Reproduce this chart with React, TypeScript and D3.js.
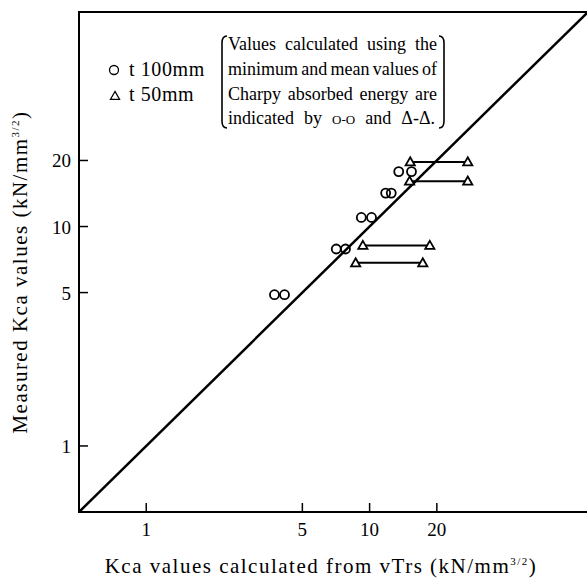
import * as d3 from "d3";
import { useEffect, useRef } from "react";

// Kca values (kN/mm^3/2)
// circles: t100mm, pairs of (min, mean) Charpy based estimate vs measured
const circleMin = [3.75, 7.09, 9.18, 11.8, 13.5];
const circleMean = [4.16, 7.8, 10.2, 12.5, 15.4];
const circleMeasured = [4.89, 7.9, 11.0, 14.2, 17.8];

// triangles: t50mm
const triMin = [15.2, 15.1, 9.33, 8.66];
const triMean = [27.5, 27.5, 18.6, 17.3];
const triMeasured = [19.7, 16.1, 8.2, 6.83];

const xTicks = [1, 5, 10, 20];
const yTicks = [1, 5, 10, 20];
const domain: [number, number] = [0.5, 95];

const noteLines = [
  "Values calculated using the",
  "minimum and mean values of",
  "Charpy absorbed energy are",
];

const W = 587;
const H = 579;
const font = "'Liberation Serif', 'Times New Roman', serif";

const App = () => {
  const noteRef = useRef<SVGGElement | null>(null);

  const x = d3.scaleLog().domain(domain).range([79, 588]);
  const y = d3.scaleLog().domain(domain).range([512, 12]);

  // justify note lines by stretching the spaces between words
  useEffect(() => {
    const g = d3.select(noteRef.current);
    g.selectAll<SVGTextElement, unknown>("text.just").each(function () {
      const target = +(this.getAttribute("data-w") || 0);
      this.setAttribute("word-spacing", "0");
      const len = this.getComputedTextLength();
      const spaces = (this.textContent || "").split(" ").length - 1;
      if (spaces > 0) this.setAttribute("word-spacing", String((target - len) / spaces));
    });
  }, []);

  const tri = (cx: number, cy: number) => {
    const s = 4.6;
    return `M${cx},${cy - s}L${cx + s},${cy + s * 0.75}L${cx - s},${cy + s * 0.75}Z`;
  };

  const diag = d3.line<number>().x((d) => x(d)).y((d) => y(d))(domain) || "";

  return (
    <svg
      width={W}
      height={H}
      style={{ position: "absolute", left: 0, top: 0, background: "#fff" }}
      fontFamily={font}
    >
      {/* frame */}
      <line x1={x(domain[0])} y1={y(domain[1])} x2={x(domain[0])} y2={y(domain[0])} stroke="#000" strokeWidth={2} />
      <line x1={x(domain[0]) - 1} y1={y(domain[0])} x2={W} y2={y(domain[0])} stroke="#000" strokeWidth={2} />
      <line x1={x(domain[0]) - 1} y1={y(domain[1])} x2={W} y2={y(domain[1])} stroke="#000" strokeWidth={2} />

      {/* ticks */}
      {xTicks.map((t) => (
        <g key={"x" + t}>
          <line x1={x(t)} x2={x(t)} y1={y(domain[0])} y2={y(domain[0]) - 9} stroke="#000" strokeWidth={1.5} />
          <text x={x(t)} y={536} fontSize={19} textAnchor="middle">{t}</text>
        </g>
      ))}
      {yTicks.map((t) => (
        <g key={"y" + t}>
          <line x1={x(domain[0])} x2={x(domain[0]) + 9} y1={y(t)} y2={y(t)} stroke="#000" strokeWidth={1.5} />
          <text x={71} y={y(t) + 7} fontSize={19} textAnchor="end">{t}</text>
        </g>
      ))}

      {/* 1:1 line */}
      <path d={diag} fill="none" stroke="#000" strokeWidth={2.5} />

      {/* triangles with min-mean connectors */}
      {triMeasured.map((m, i) => (
        <g key={"t" + i}>
          <line x1={x(triMin[i])} x2={x(triMean[i])} y1={y(m)} y2={y(m)} stroke="#000" strokeWidth={2} />
          <path d={tri(x(triMin[i]), y(m))} fill="#fff" stroke="#000" strokeWidth={1.8} />
          <path d={tri(x(triMean[i]), y(m))} fill="#fff" stroke="#000" strokeWidth={1.8} />
        </g>
      ))}

      {/* circles */}
      {circleMeasured.map((m, i) => (
        <g key={"c" + i}>
          <circle cx={x(circleMin[i])} cy={y(m)} r={4.5} fill="none" stroke="#000" strokeWidth={1.8} />
          <circle cx={x(circleMean[i])} cy={y(m)} r={4.5} fill="none" stroke="#000" strokeWidth={1.8} />
        </g>
      ))}

      {/* legend */}
      <circle cx={114} cy={70} r={4.5} fill="none" stroke="#000" strokeWidth={1.3} />
      <text x={129} y={76} fontSize={20} letterSpacing={0.6}>t 100mm</text>
      <path d={tri(115, 96)} fill="none" stroke="#000" strokeWidth={1.2} />
      <text x={129} y={101} fontSize={20} letterSpacing={0.6}>t 50mm</text>

      {/* note in brackets */}
      <g ref={noteRef}>
        <path d="M227,36 Q222,36 222,43 L222,121 Q222,128 227,128" fill="none" stroke="#000" strokeWidth={1.6} />
        <path d="M439,36 Q444,36 444,43 L444,121 Q444,128 439,128" fill="none" stroke="#000" strokeWidth={1.6} />
        {noteLines.map((l, i) => (
          <text key={l} className="just" data-w={209} x={228} y={50 + i * 25} fontSize={18}>
            {l}
          </text>
        ))}
        <text className="just" data-w={207} x={228} y={124} fontSize={18}>
          indicated by <tspan fontSize={13}>O-O</tspan> and Δ-Δ.
        </text>
      </g>

      {/* axis titles */}
      <text x={321} y={573} fontSize={21} letterSpacing={1.5} textAnchor="middle">
        Kca values calculated from vTrs (kN/mm<tspan fontSize={11} dy={-8}>3/2</tspan>
        <tspan dy={8}>)</tspan>
      </text>
      <text transform="translate(27,272) rotate(-90)" fontSize={21} letterSpacing={1.5} textAnchor="middle">
        Measured Kca values (kN/mm<tspan fontSize={11} dy={-8}>3/2</tspan>
        <tspan dy={8}>)</tspan>
      </text>
    </svg>
  );
};

export default App;
